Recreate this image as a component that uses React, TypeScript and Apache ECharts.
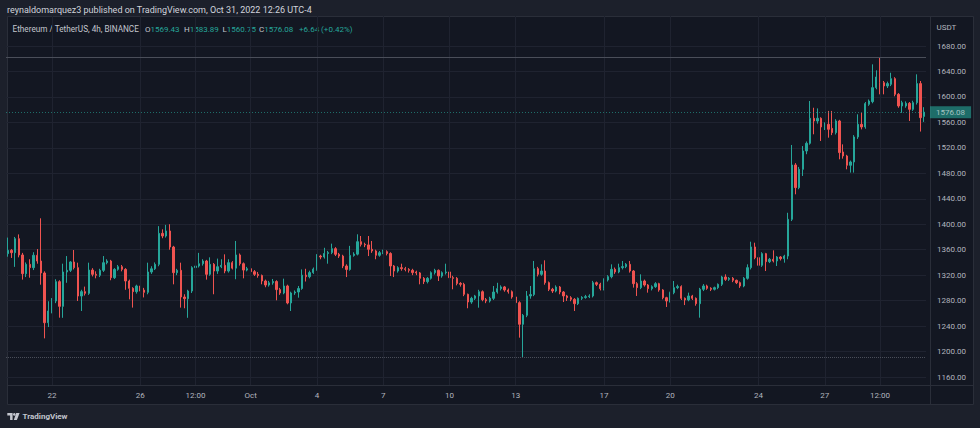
import { useEffect, useRef } from "react";
import * as echarts from "echarts";

// ---- DATA: 4h candles, [open, close, low, high] ----
const SEP_20_30: number[][] = [
  [1353.8,1359,1349,1379],[1359,1355.3,1347,1361],[1355.3,1377.3,1333,1380],[1377.3,1351.7,1348,1384],
  [1351.7,1322.3,1313,1355],[1322.3,1337,1317,1340],[1337,1331.8,1316,1345],[1331.8,1351.2,1328,1356],
  [1351.2,1342.2,1338,1361],[1342.2,1323.4,1305,1409.3],[1323.4,1245.3,1220.7,1326],[1245.3,1263.7,1238.5,1279],
  [1263.7,1279.4,1260,1284],[1279.4,1309.8,1276,1313.6],[1309.8,1271,1253.2,1312],[1271,1325,1253,1338],
  [1325,1327.6,1308,1350],[1327.6,1340.7,1325,1342],[1340.7,1331.8,1329,1359.5],[1331.8,1287.2,1279.4,1339.6],
  [1287.2,1294.1,1263.7,1297],[1294.1,1291.4,1288,1302],[1291.4,1328,1289,1339.6],[1328,1321.3,1318,1331],
  [1321.3,1319.8,1315,1326],[1319.8,1327.6,1317,1330],[1327.6,1339.6,1325,1350],[1339.6,1342.2,1337,1345],
  [1342.2,1316,1312,1344],[1316,1329.1,1314,1331],[1329.1,1333.3,1327,1336],[1333.3,1329.1,1326,1336],
  [1329.1,1310.8,1297,1331],[1310.8,1299.3,1282,1313],[1299.3,1294.1,1269,1301],[1294.1,1303,1291,1305],
  [1303,1295,1292,1306],[1296.5,1293,1285,1300],[1293,1325,1290,1339.6],[1325,1330,1322,1334],
  [1330,1337,1328,1340],[1337,1385.7,1334,1397],[1385.7,1381.5,1378,1392],[1381.5,1389.4,1379,1399],
  [1389.4,1364.2,1360,1400],[1364.2,1323.9,1305.6,1366],[1323.9,1327.6,1320,1330],[1327.6,1285.7,1269,1339.6],
  [1285.7,1283,1268,1290],[1283,1295.1,1253,1297],[1295.1,1331.8,1292,1334],[1331.8,1334.4,1312,1337],
  [1334.4,1338,1332,1355],[1338,1342.2,1335,1345],[1342.2,1321.3,1313,1344],[1321.3,1337,1319,1348],
  [1337,1326.5,1290,1339],[1326.5,1333.3,1322,1346],[1333.3,1335.4,1331,1345],[1335.4,1326.5,1323,1352.7],
  [1326.5,1339.6,1324,1345],[1339.6,1331,1329,1342],[1331,1351.7,1313.6,1373.7],[1351.7,1338,1335,1354],
  [1338,1328,1315,1340],[1328,1330.2,1326,1333],
];
const OCT_01_11: number[][] = [
  [1330.2,1325.5,1322,1334],[1325.5,1321.3,1318.7,1328],[1321.3,1319.5,1316,1325],[1319.5,1310.8,1305.6,1321],
  [1310.8,1304.5,1301,1313],[1304.5,1308,1302,1311],[1308,1310,1305,1314],[1310,1297.3,1280.5,1312],
  [1297.3,1292,1289,1300],[1292,1303,1290,1314.5],[1303,1276.3,1274.2,1305],[1276.3,1292,1263.7,1294],
  [1292,1293.5,1289,1296],[1293.5,1299,1284.6,1303],[1299,1320,1297,1329],[1320,1317.6,1310,1330],
  [1317.6,1324,1315,1327],[1324,1329.5,1322,1332],[1329.5,1350,1327,1353],[1350,1348.5,1345,1352],
  [1348.5,1354,1346,1363],[1354,1355.4,1338,1358],[1355.4,1361.6,1353,1369.5],[1361.6,1352.7,1350,1364],
  [1352.7,1350,1347,1355],[1350,1334.4,1331,1352],[1334.4,1329,1317,1337],[1329,1351,1327,1366],
  [1351,1353,1349,1356],[1353,1372.6,1351,1384.2],[1372.6,1368.4,1365,1381.5],[1368.4,1367.5,1364,1371],
  [1367.5,1360.6,1350,1381.5],[1360.6,1358,1355,1373.7],[1358,1351.2,1345,1360],[1351.2,1355.3,1349,1358],
  [1355.3,1356.9,1353,1360],[1356.9,1354,1351,1359],[1354,1334.4,1318.7,1356],[1334.4,1326.5,1317,1336],
  [1326.5,1331.8,1324,1334],[1331.8,1330.2,1327,1338],[1330.2,1329,1326,1333],[1329,1327.6,1324,1331],
  [1327.6,1324,1320,1330],[1325,1323.5,1320,1327],[1323.5,1315,1305.6,1325],[1315,1309.8,1306,1317],
  [1309.8,1315,1307,1317],[1315,1323.9,1313,1326],[1323.9,1327.6,1321,1330],[1327.6,1318.7,1310.8,1329],
  [1318.7,1323.9,1316,1326],[1323.9,1325,1321,1338],[1325,1316,1313,1327],[1316,1315,1297.8,1319],
  [1315,1307,1304,1317],[1307,1305.6,1302,1309],[1305.6,1289.9,1287,1308],[1289.9,1277.8,1268,1291],
  [1277.8,1283.6,1275,1286],[1283.6,1287.3,1281,1289],[1287.3,1294,1268.9,1297],[1294,1281.5,1279,1296],
  [1281.5,1279.4,1276,1284],[1279.4,1283.6,1277,1286],
];
const OCT_12_22: number[][] = [
  [1283.6,1293.5,1281,1303],[1293.5,1298.8,1291,1308],[1298.8,1301.5,1296,1304],[1301.5,1296.7,1294,1303],
  [1296.7,1294,1291,1299],[1294,1285.7,1283,1296],[1285.7,1276.8,1274,1288],[1276.8,1242.8,1221.8,1279],
  [1242.8,1256.9,1190.4,1259],[1256.9,1287.3,1254,1295.1],[1287.3,1289.5,1283,1303],[1289.5,1330.2,1287,1342.3],
  [1330.2,1321.3,1318,1333],[1321.3,1326.5,1319,1337],[1326.5,1308.2,1305,1343.3],[1308.2,1297.8,1295,1310],
  [1297.8,1295.1,1292,1300],[1295.1,1301.4,1293,1304],[1301.4,1293.5,1290,1303],[1293.5,1287.3,1277.8,1295],
  [1287.3,1284.6,1279.4,1289],[1284.6,1282,1279,1287],[1282,1275.2,1263.7,1284],[1275.2,1283.6,1273,1285],
  [1283.6,1285,1281,1287],[1285,1286.2,1283,1289],[1286.2,1287.3,1284,1290],[1287.3,1308.2,1285,1311],
  [1308.2,1305.6,1303,1310],[1305.6,1298.8,1296,1308],[1298.8,1312.4,1296,1315],[1312.4,1317.6,1310,1320],
  [1317.6,1329.2,1315,1337],[1329.2,1325,1322,1332],[1325,1331.8,1323,1338],[1331.8,1333.4,1329,1342.3],
  [1333.4,1337,1331,1339],[1337,1326.5,1324,1342.3],[1326.5,1306.6,1300.4,1328],[1306.6,1300.4,1287.3,1309],
  [1300.4,1310.8,1298,1321.3],[1310.8,1304.5,1302,1313],[1304.5,1298.8,1292.5,1306],[1298.8,1301.9,1296,1304],
  [1301.9,1306.6,1300,1309],[1306.6,1296.7,1294,1308],[1296.7,1284.6,1282,1298],[1284.6,1279.4,1270,1286],
  [1279.4,1292.5,1277,1294],[1292.5,1300.4,1290,1310.8],[1300.4,1302,1298,1305],[1302,1283.6,1281,1304],
  [1283.6,1281,1273,1285],[1281,1287.3,1279,1292.5],[1287.3,1283.6,1281,1289],[1283.6,1275.2,1272,1285],
  [1275.2,1297.8,1253.2,1300],[1297.8,1303,1295,1306],[1303,1299.3,1297,1305],[1299.3,1297.8,1295,1301],
  [1297.8,1300.4,1296,1302],[1300.4,1305.6,1298,1307],[1305.6,1317.1,1303,1319],[1317.1,1313.4,1311,1321.3],
  [1313.4,1315,1311,1317],[1315,1311.9,1309,1317],
];
const OCT_23_31: number[][] = [
  [1311.9,1308.2,1306,1313],[1308.2,1303,1300,1310],[1303,1315,1301,1317],[1315,1331.8,1313,1337],
  [1331.8,1364.3,1329,1372.6],[1364.3,1347.5,1345,1371],[1347.5,1335.5,1333,1349],[1335.5,1353.8,1333,1356],
  [1353.8,1341.2,1326.5,1355],[1341.2,1344.9,1339,1347],[1344.9,1342.3,1340,1359],[1342.3,1348.5,1334.4,1350],
  [1348.5,1345.9,1343,1350],[1345.9,1350,1339.6,1352],[1350,1407.7,1345,1418],[1407.7,1493.1,1405,1524.5],
  [1493.1,1457.5,1447,1496],[1457.5,1486.3,1455,1490],[1486.3,1515.1,1475.8,1522.8],[1515.1,1527.1,1510,1530],
  [1527.1,1566.4,1525,1593.6],[1566.4,1562.2,1541.3,1583],[1562.2,1566.4,1558,1582],[1566.4,1552.8,1530.8,1568],
  [1552.8,1555.9,1548,1560],[1557,1549.1,1536,1578],[1550.6,1543.9,1540,1578],[1543.9,1562.2,1541,1565],
  [1562.2,1512.5,1502,1564],[1513.5,1507.2,1503,1525.5],[1507.2,1492.6,1486.3,1509],[1492.6,1497.8,1481.1,1500],
  [1497.8,1537.1,1481.1,1540],[1537.1,1557,1534,1572.7],[1557,1552.8,1549,1575],[1552.8,1589.5,1550,1592],
  [1588.4,1593.6,1586,1596],[1592.6,1614.6,1590,1651.2],[1614.6,1631.3,1612,1641.8],[1631.3,1622.4,1604.1,1661.7],
  [1622.4,1617.2,1604.1,1625],[1617.2,1620.9,1614,1624],[1619.8,1628.7,1617,1638],[1628.7,1604.1,1601,1631],
  [1604.1,1585.8,1583,1606],[1585.8,1591,1575,1594],[1585.8,1590,1583,1593],[1590,1580.5,1562.2,1592],
  [1580.5,1591,1578,1594],[1591,1620.9,1588,1635.5],[1620.9,1567.4,1545.6,1625],[1569.43,1576.08,1560.75,1583.89],
];

// time-axis tick labels: [candle index, label]
const TIME_TICKS: [number, string][] = [
  [12, "22"], [36, "26"], [51, "12:00"], [66, "Oct"], [84, "4"], [102, "7"], [120, "10"],
  [138, "13"], [162, "17"], [180, "20"], [204, "24"], [222, "27"], [237, "12:00"],
];
// price axis ticks
const PRICE_MIN = 1160;
const PRICE_MAX = 1680;
const PRICE_STEP = 40;

const RANGE_HIGH = 1661.7;
const RANGE_LOW = 1190.4;
const LAST_OHLC = { o: "1569.43", h: "1583.89", l: "1560.75", c: "1576.08", chg: "+6.64 (+0.42%)" };
const LAST_CLOSE = 1576.08;

const HEADER = "reynaldomarquez3 published on TradingView.com, Oct 31, 2022 12:26 UTC-4";
const SYMBOL_TITLE = "Ethereum / TetherUS, 4h, BINANCE";

const CANDLES = [...SEP_20_30, ...OCT_01_11, ...OCT_12_22, ...OCT_23_31];
const START = Date.UTC(2022, 8, 20, 0, 0);
const CATEGORIES = CANDLES.map((_, i) => {
  const d = new Date(START + i * 4 * 3600 * 1000);
  const p = (n: number) => String(n).padStart(2, "0");
  return `2022-${p(d.getUTCMonth() + 1)}-${p(d.getUTCDate())} ${p(d.getUTCHours())}:00`;
});
const TICK_MAP = new Map<number, string>(TIME_TICKS);

// ---- layout ----
const FONT = "Roboto, 'Noto Sans', sans-serif";
const UP = "#26a69a";
const DOWN = "#ef5350";
const PANEL = { x: 7, y: 16, r: 973, b: 404 };
const PRICE_AXIS_X = 930;
const TIME_AXIS_Y = 385;
const GRID_LEFT = 6;
const GRID_WIDTH = 920;
const Y_AT_MAX = 46;
const Y_AT_MIN = 377;
const PX_PER_UNIT = (Y_AT_MIN - Y_AT_MAX) / (PRICE_MAX - PRICE_MIN);
const FULL_MIN = PRICE_MIN - (TIME_AXIS_Y - Y_AT_MIN) / PX_PER_UNIT;
const FULL_MAX = PRICE_MAX + (Y_AT_MAX - PANEL.y) / PX_PER_UNIT;

export default function App() {
  const ref = useRef<HTMLDivElement>(null);
  useEffect(() => {
    if (!ref.current) return;
    const chart = echarts.init(ref.current, undefined, { renderer: "svg" });
    const gridLine = "#1f2330";
    const option: any = {
      animation: false,
      backgroundColor: "#1c202b",
      grid: [
        { left: GRID_LEFT, top: PANEL.y, width: GRID_WIDTH, height: TIME_AXIS_Y - PANEL.y },
        { left: GRID_LEFT, top: Y_AT_MAX, width: GRID_WIDTH, height: Y_AT_MIN - Y_AT_MAX },
      ],
      xAxis: [
        {
          type: "category", gridIndex: 0, data: CATEGORIES, boundaryGap: true,
          axisLine: { show: false }, axisTick: { show: false }, splitLine: { show: false },
          axisLabel: {
            interval: (i: number) => TICK_MAP.has(i),
            formatter: (_v: string, i: number) => TICK_MAP.get(i) ?? "",
            color: "#b2b5be", fontSize: 8, margin: 6, fontFamily: FONT,
          },
        },
        { type: "category", gridIndex: 1, data: CATEGORIES, show: false },
      ],
      yAxis: [
        { type: "value", gridIndex: 0, min: FULL_MIN, max: FULL_MAX, show: false },
        {
          type: "value", gridIndex: 1, position: "right", min: PRICE_MIN, max: PRICE_MAX, interval: PRICE_STEP,
          axisLine: { show: false }, axisTick: { show: false },
          splitLine: { lineStyle: { color: gridLine, width: 1 } },
          axisLabel: { color: "#b2b5be", fontSize: 8, margin: 11, fontFamily: FONT, formatter: (v: number) => v.toFixed(2) },
        },
      ],
      series: [
        {
          type: "line", xAxisIndex: 0, yAxisIndex: 0, data: [], silent: true, z: 1,
          markLine: {
            silent: true, symbol: ["none", "none"], label: { show: false },
            lineStyle: { color: gridLine, type: "solid", width: 1 },
            data: TIME_TICKS.map(([i]) => ({ xAxis: CATEGORIES[i] })),
          },
        },
        {
          type: "candlestick", xAxisIndex: 0, yAxisIndex: 0, data: CANDLES, barWidth: 1.8, z: 3,
          itemStyle: { color: UP, color0: DOWN, borderColor: UP, borderColor0: DOWN, borderWidth: 1 },
          markLine: {
            silent: true, symbol: ["none", "none"],
            data: [
              { yAxis: RANGE_HIGH, lineStyle: { color: "#4a4e59", type: "solid", width: 1 }, label: { show: false } },
              { yAxis: RANGE_LOW, lineStyle: { color: "#4a4e59", type: "dotted", width: 1 }, label: { show: false } },
              {
                yAxis: LAST_CLOSE, lineStyle: { color: UP, type: [1, 2], width: 1, opacity: 0.6 },
                label: {
                  show: true, position: "end", distance: 4, formatter: LAST_OHLC.c,
                  backgroundColor: UP, color: "#ffffff", padding: [2, 6, 2, 6], fontSize: 8, fontFamily: FONT,
                },
              },
            ],
          },
        },
      ],
      graphic: [
        {
          type: "rect", z: -5,
          shape: { x: PANEL.x + 0.5, y: PANEL.y + 0.5, width: PANEL.r - PANEL.x, height: PANEL.b - PANEL.y },
          style: { fill: "#131722", stroke: "#2a2e39", lineWidth: 1 },
        },
        {
          type: "line", z: 5,
          shape: { x1: PRICE_AXIS_X + 0.5, y1: PANEL.y, x2: PRICE_AXIS_X + 0.5, y2: PANEL.b },
          style: { stroke: "#2a2e39", lineWidth: 1 },
        },
        {
          type: "line", z: 5,
          shape: { x1: PANEL.x, y1: TIME_AXIS_Y + 0.5, x2: PANEL.r, y2: TIME_AXIS_Y + 0.5 },
          style: { stroke: "#2a2e39", lineWidth: 1 },
        },
        {
          type: "text", x: 7, y: 10,
          style: { text: HEADER, fill: "#d1d4dc", fontSize: 9, fontFamily: FONT, verticalAlign: "middle" },
        },
        {
          type: "text", x: 12.5, y: 29,
          style: { text: SYMBOL_TITLE, fill: "#c3c6ce", fontSize: 8.2, fontFamily: FONT, verticalAlign: "middle" },
        },
        ...[
          { x: 145, l: "O", v: LAST_OHLC.o },
          { x: 184, l: "H", v: LAST_OHLC.h },
          { x: 222.5, l: "L", v: LAST_OHLC.l },
          { x: 259, l: "C", v: LAST_OHLC.c },
          { x: 299, l: "", v: LAST_OHLC.chg },
        ].map((g) => ({
          type: "text", x: g.x, y: 29,
          style: {
            text: (g.l ? `{l|${g.l}}` : "") + `{v|${g.v}}`,
            fontSize: 8, fontFamily: FONT, verticalAlign: "middle",
            rich: {
              l: { fill: "#c3c6ce", fontSize: 8, fontFamily: FONT },
              v: { fill: UP, fontSize: 8, fontFamily: FONT },
            },
          },
        })),
        {
          type: "text", x: 936.5, y: 27.5,
          style: { text: "USDT", fill: "#b2b5be", fontSize: 8, fontFamily: FONT, verticalAlign: "middle" },
        },
        // TradingView logo
        {
          type: "polygon",
          shape: { points: [[7.3, 413], [12.6, 413], [12.6, 420], [10.1, 420], [10.1, 415.6], [7.3, 415.6]] },
          style: { fill: "#c3c6ce" },
        },
        { type: "circle", shape: { cx: 14.3, cy: 414.4, r: 1.3 }, style: { fill: "#c3c6ce" } },
        {
          type: "polygon",
          shape: { points: [[16.2, 413], [19.6, 413], [16.9, 420], [13.8, 420]] },
          style: { fill: "#c3c6ce" },
        },
        {
          type: "text", x: 22.5, y: 416.8,
          style: { text: "TradingView", fill: "#c3c6ce", fontSize: 8, fontWeight: "bold", fontFamily: FONT, verticalAlign: "middle" },
        },
      ],
    };
    chart.setOption(option);
    return () => chart.dispose();
  }, []);
  return <div ref={ref} style={{ position: "fixed", left: 0, top: 0, width: 980, height: 428 }} />;
}
